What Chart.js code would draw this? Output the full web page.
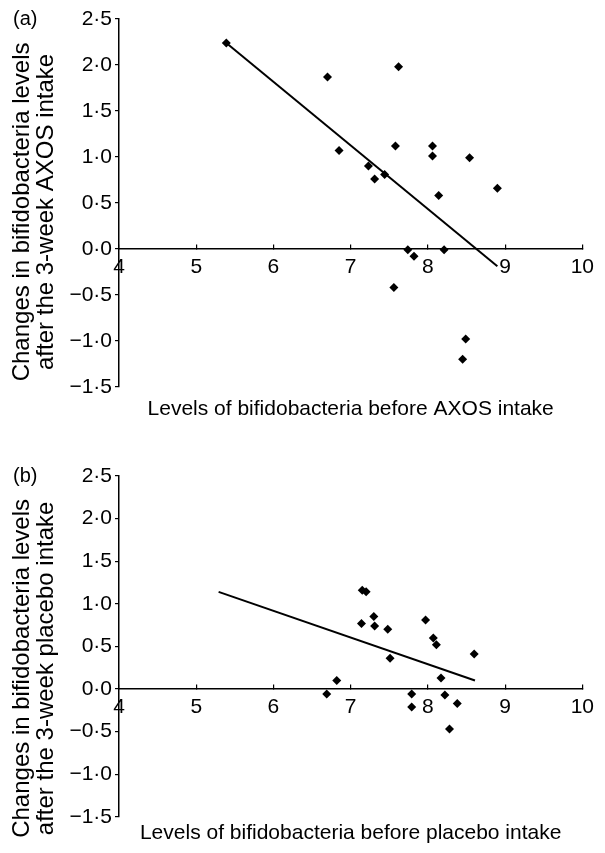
<!DOCTYPE html>
<html>
<head>
<meta charset="utf-8">
<script src="https://cdn.jsdelivr.net/npm/chart.js@4"></script>
<style>
  html, body { margin: 0; padding: 0; background: #fff; }
  #page { position: relative; width: 605px; height: 853px; overflow: hidden; }
  canvas { position: absolute; left: 0; }
  .panel-label { position: absolute; left: 13px; font: 20px "Liberation Sans", Arial, sans-serif; color: #000; }
</style>
</head>
<body>
<div id="page">
  <canvas id="chartA" width="605" height="430" style="top:0"></canvas>
  <canvas id="chartB" width="605" height="423" style="top:430px"></canvas>
  <div class="panel-label" style="top:7px">(a)</div>
  <div class="panel-label" style="top:464px">(b)</div>
</div>
<script>
// (a) AXOS
const axosBefore = [5.39, 6.70, 7.62, 6.85, 7.58, 8.06, 8.06, 8.54, 7.23, 7.31, 7.44, 8.14, 8.90, 7.74, 7.82, 8.21, 7.56, 8.49, 8.45];
const axosChange = [2.24, 1.87, 1.98, 1.07, 1.12, 1.12, 1.01, 0.99, 0.90, 0.76, 0.81, 0.58, 0.66, -0.01, -0.08, -0.01, -0.42, -0.98, -1.20];
const axosFitX = [5.39, 8.90];
const axosFitY = [2.24, -0.19];

// (b) placebo
const placeboBefore = [6.69, 6.82, 7.15, 7.20, 7.14, 7.30, 7.31, 7.48, 7.51, 7.97, 8.07, 8.11, 8.60, 8.17, 7.79, 7.79, 8.22, 8.38, 8.28];
const placeboChange = [-0.06, 0.10, 1.16, 1.14, 0.77, 0.85, 0.74, 0.70, 0.36, 0.81, 0.60, 0.52, 0.41, 0.13, -0.06, -0.21, -0.07, -0.17, -0.47];
const placeboFitX = [5.29, 8.61];
const placeboFitY = [1.14, 0.10];

const xTicks = [4, 5, 6, 7, 8, 9, 10];
const xTickLabels = ["4", "5", "6", "7", "8", "9", "10"];
const yTicks = [-1.5, -1, -0.5, 0, 0.5, 1, 1.5, 2, 2.5];
const yTickLabels = ["\u22121\u00b75", "\u22121\u00b70", "\u22120\u00b75", "0\u00b70", "0\u00b75", "1\u00b70", "1\u00b75", "2\u00b70", "2\u00b75"];

Chart.defaults.font.family = "'Liberation Sans', Arial, Helvetica, sans-serif";
Chart.defaults.color = "#000";

function toPoints(xs, ys) {
  return xs.map((x, i) => ({ x: x, y: ys[i] }));
}

// the y title is centred on the scale box; nudge it down only while it is drawn
const shiftYTitle = {
  id: "shiftYTitle",
  afterLayout(chart, args, opts) {
    const y = chart.scales.y;
    if (y._shifted) return;
    const draw = y.drawTitle;
    y.drawTitle = function () {
      this.top += opts.dy;
      this.bottom += opts.dy;
      draw.call(this);
      this.top -= opts.dy;
      this.bottom -= opts.dy;
    };
    y._shifted = true;
  },
};

function makeChart(id, before, change, fitX, fitY, yTitle, xTitle, pad, titlePadTop, titleShift) {
  const ctx = document.getElementById(id).getContext("2d");
  return new Chart(ctx, {
    type: "scatter",
    plugins: [shiftYTitle],
    data: {
      datasets: [
        {
          data: toPoints(before, change),
          pointStyle: "rectRot",
          pointRadius: 4.5,
          backgroundColor: "#000",
          borderColor: "#000",
          borderWidth: 0,
        },
        {
          data: toPoints(fitX, fitY),
          showLine: true,
          pointRadius: 0,
          borderColor: "#000",
          borderWidth: 2,
        },
      ],
    },
    options: {
      responsive: false,
      animation: false,
      layout: { padding: pad },
      plugins: {
        legend: { display: false },
        tooltip: { enabled: false },
        shiftYTitle: { dy: titleShift },
        title: {
          display: true,
          position: "bottom",
          fullSize: false,
          text: xTitle,
          color: "#000",
          font: { size: 21, weight: "normal" },
          padding: { top: titlePadTop, bottom: 0 },
        },
      },
      scales: {
        x: {
          type: "linear",
          axis: "x",
          position: { y: 0 },
          min: 4,
          max: 10,
          ticks: {
            stepSize: 1,
            padding: 11,
            font: { size: 21 },
            callback: (v) => xTickLabels[xTicks.indexOf(v)],
          },
          grid: { drawOnChartArea: false, tickLength: -5, color: "#000", lineWidth: 1.2 },
          border: { color: "#000", width: 1.5 },
        },
        y: {
          type: "linear",
          min: -1.5,
          max: 2.5,
          ticks: {
            stepSize: 0.5,
            padding: 3,
            font: { size: 21 },
            callback: (v) => yTickLabels[yTicks.indexOf(v)],
          },
          grid: { drawOnChartArea: false, tickLength: 4, color: "#000", lineWidth: 1.2 },
          border: { color: "#000", width: 1.5 },
          title: {
            display: true,
            text: yTitle,
            color: "#000",
            font: { size: 24, lineHeight: 1.02 },
            padding: { top: 10, bottom: 0 },
          },
          afterFit: (scale) => {
            scale.width = 119;
          },
        },
      },
    },
  });
}

makeChart(
  "chartA", axosBefore, axosChange, axosFitX, axosFitY,
  ["Changes in bifidobacteria levels", "after the 3-week AXOS intake"],
  "Levels of bifidobacteria before AXOS intake",
  { top: 19, right: 11, bottom: 8, left: 0 }, 10, 9
);

makeChart(
  "chartB", placeboBefore, placeboChange, placeboFitX, placeboFitY,
  ["Changes in bifidobacteria levels", "after the 3-week placebo intake"],
  "Levels of bifidobacteria before placebo intake",
  { top: 46, right: 11, bottom: 7, left: 0 }, 4, 22
);
</script>
</body>
</html>
